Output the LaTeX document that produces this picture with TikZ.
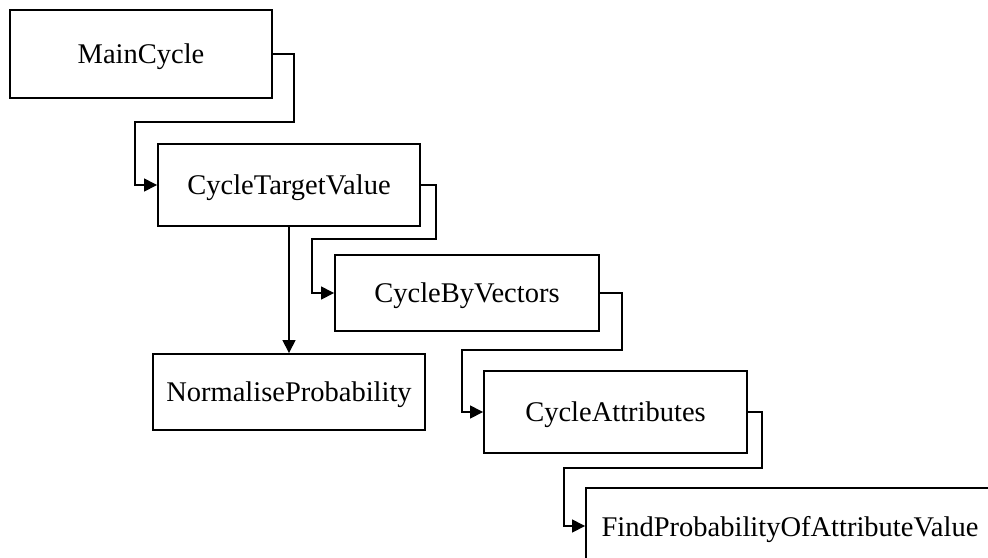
\documentclass[tikz,border=0pt]{standalone}
\usepackage{fontspec}
\setmainfont{Liberation Serif}
\usetikzlibrary{arrows.meta}
\begin{document}
\begin{tikzpicture}[x=1pt,y=-1pt]
    \tikzset{boite/.style={draw, line width=1.9pt, rectangle, inner sep=0pt, text depth=0pt,
        font=\fontsize{28.5}{34}\selectfont}}
    \tikzset{fleche/.style={line width=1.5pt, -{Triangle[length=13pt,width=13pt]}}}
    \useasboundingbox (0,0) rectangle (988,557);
    \clip (0,0) rectangle (988,557);
    \node[boite, minimum width=262, minimum height=88] (MC) at (141, 54) {MainCycle};
    \node[boite, minimum width=262, minimum height=82] (CTV) at (289, 185) {CycleTargetValue};
    \node[boite, minimum width=272, minimum height=76] (NP) at (289, 392) {NormaliseProbability};
    \node[boite, minimum width=264, minimum height=76] (CBV) at (467, 293) {CycleByVectors};
    \node[boite, minimum width=263, minimum height=82] (CA) at (615.5, 412) {CycleAttributes};
    \node[boite, minimum width=408, minimum height=76] (FP) at (790, 526) {FindProbabilityOfAttributeValue};
    \draw[fleche] (MC.east) -- ++(21,0) -- ++(0,68) -| ([xshift=-22]CTV.west) -- (CTV.west);
    \draw[fleche] (CTV.east) -- ++(15,0) -- ++(0,54) -| ([xshift=-22]CBV.west) -- (CBV.west);
    \draw[fleche] (CBV.east) -- ++(22,0) -- ++(0,57) -| ([xshift=-21]CA.west) -- (CA.west);
    \draw[fleche] (CA.east) -- ++(14,0) -- ++(0,56) -| ([xshift=-21]FP.west) -- (FP.west);
    \draw[fleche] (CTV.south) -- (NP.north);
  \end{tikzpicture}
\end{document}
